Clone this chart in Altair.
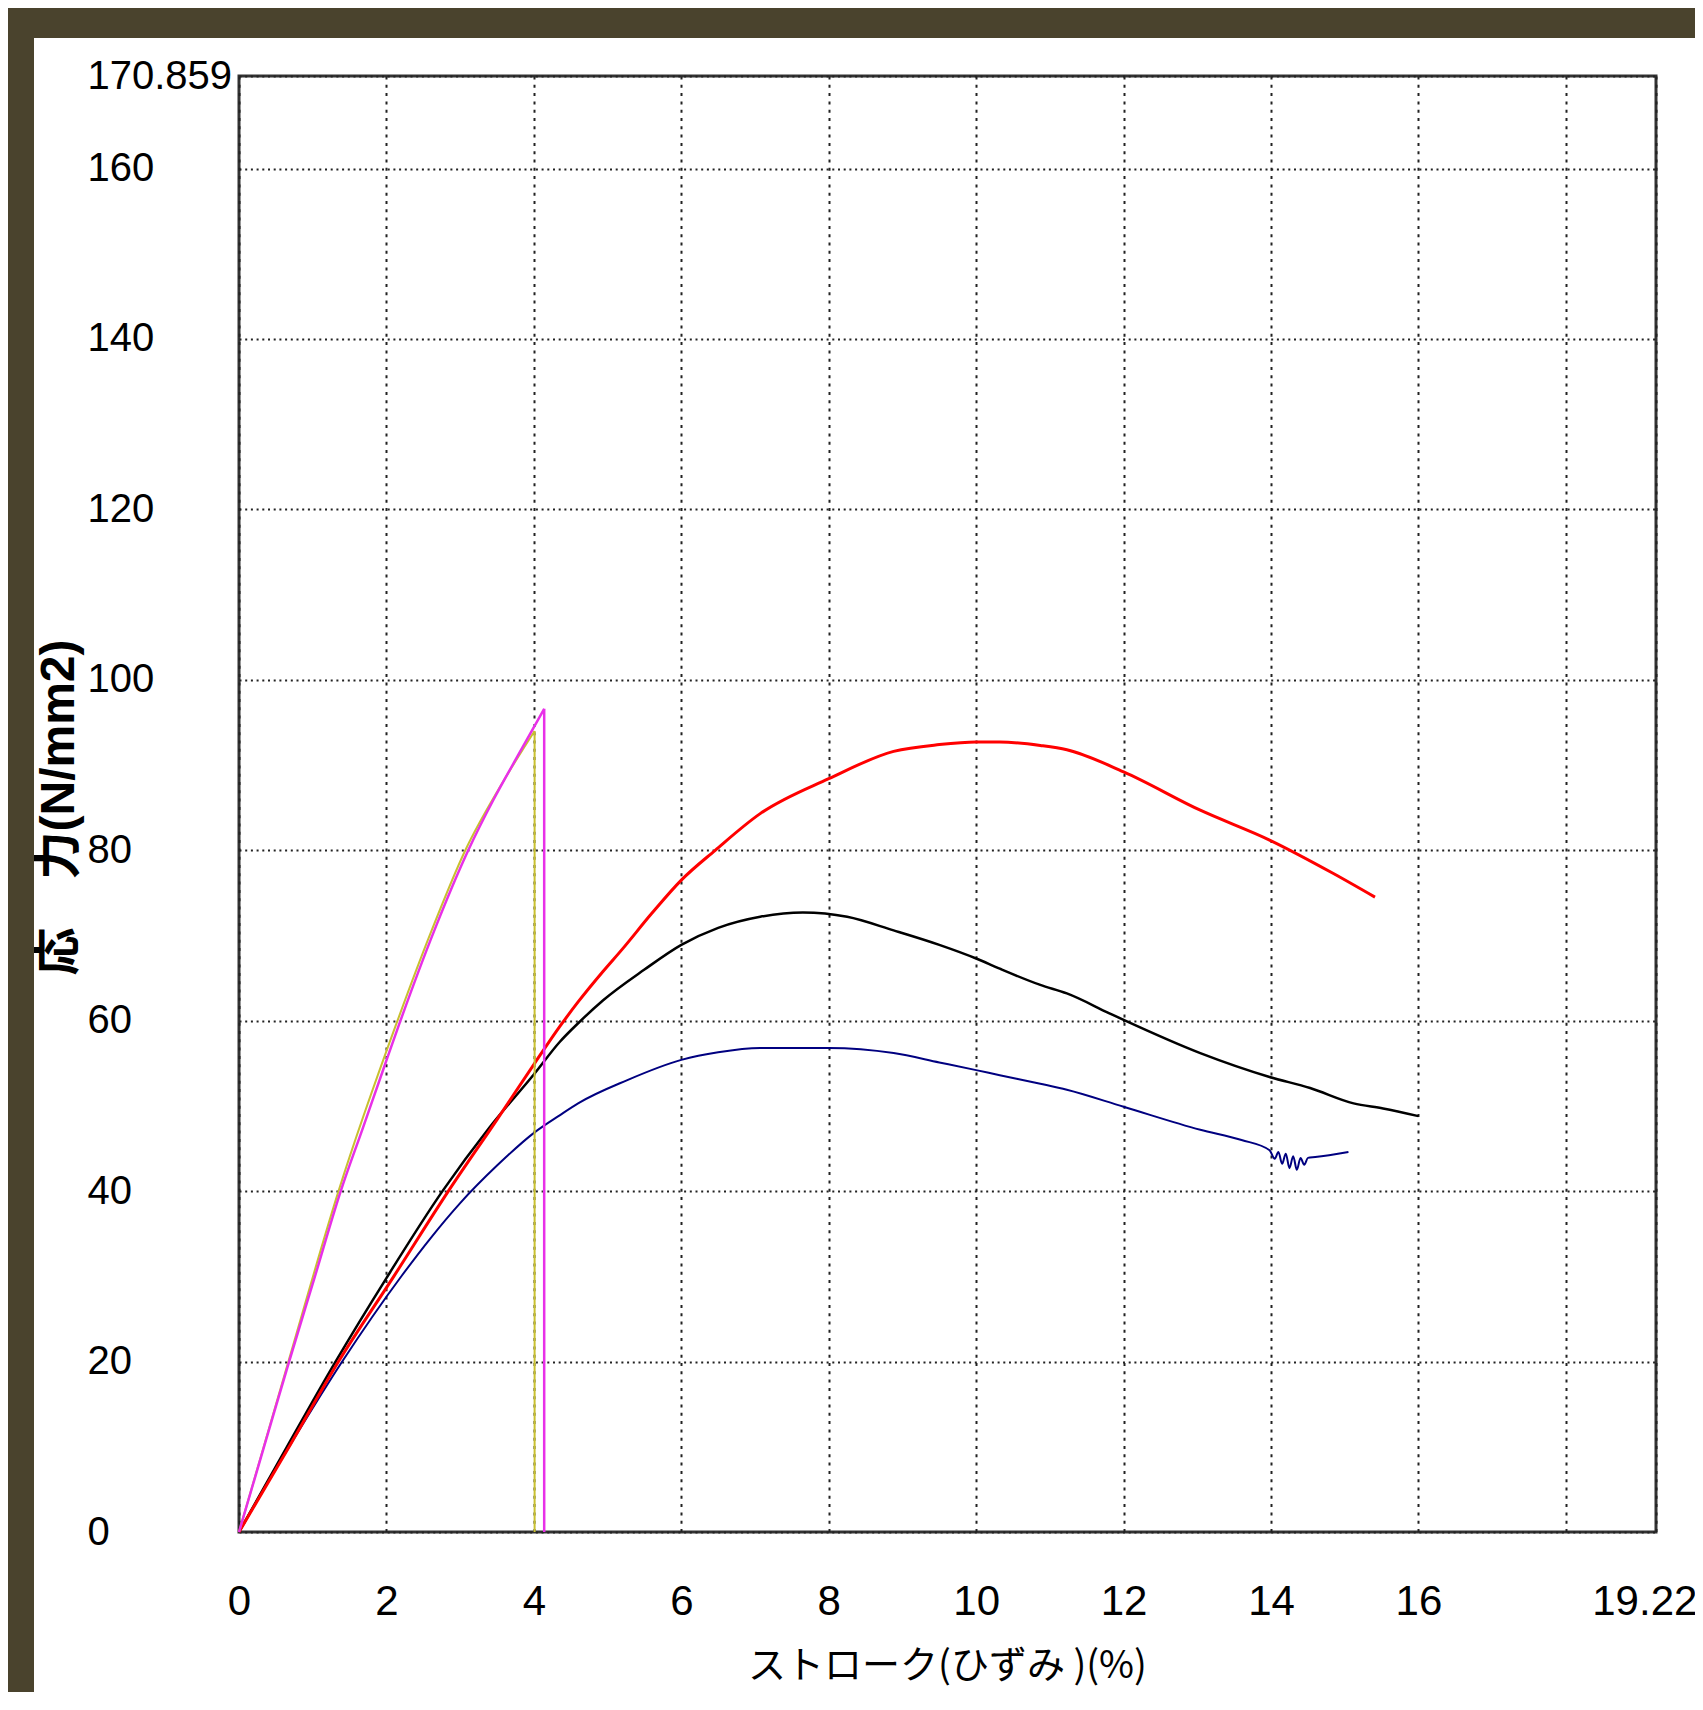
import altair as alt
import pandas as pd

# ---- data ----
magenta_x = [0, 0.35, 0.68, 1.02, 1.38, 1.68, 1.97, 2.19, 2.65, 3.11, 3.45, 3.75, 4.14, 4.14]
magenta_y = [0, 10.3, 20, 29.7, 40, 47.4, 54.6, 60, 70.6, 80, 85.9, 90.6, 96.6, 0]

yellow_x = [0, 0.67, 1.35, 2.15, 2.6, 3.07, 3.6, 4.01, 4.01]
yellow_y = [0, 20, 40, 60, 70.3, 80, 88.3, 94.0, 0]

red_x = [0, 0.7, 1.35, 2.1, 2.84, 3.5, 4.01, 4.35, 4.6, 4.94, 5.2, 5.6, 6.0, 6.46, 7.07, 8.0,
         8.88, 9.5, 10.0, 10.32, 10.87, 11.23, 12.0, 13.04, 13.98, 14.84, 15.41]
red_y = [0, 10.3, 20, 30, 40, 48.4, 55.0, 59.3, 62.2, 65.8, 68.4, 72.6, 76.5, 80, 84.3, 88.4,
         91.6, 92.4, 92.7, 92.7, 92.3, 91.8, 89.2, 84.7, 81.2, 77.3, 74.5]

black_x = [0, 0.65, 1.31, 2.0, 2.76, 3.4, 4.01, 4.35, 4.6, 4.94, 5.5, 6.0, 6.5, 7.07, 7.65,
           8.25, 8.88, 9.5, 10.0, 10.32, 10.87, 11.23, 11.8, 12.0, 13.04, 13.98, 14.53, 15.12,
           15.52, 16.0]
black_y = [0, 10, 20, 29.8, 40, 47.5, 53.8, 57.5, 59.7, 62.4, 66.0, 68.9, 70.9, 72.2, 72.7,
           72.2, 70.6, 68.9, 67.3, 66.1, 64.2, 63.2, 60.9, 60.1, 56.2, 53.4, 52.1, 50.3,
           49.7, 48.8]

blue_x = [0, 0.68, 1.4, 2.21, 2.6, 3.0, 3.5, 4.01, 4.35, 4.6, 5.26, 6.0, 6.5, 7.07, 8.0, 8.88,
          9.5, 10.0, 10.32, 10.87, 11.23, 12.0, 13.04, 13.6, 13.98, 14.05, 14.1, 14.15, 14.2,
          14.25, 14.3, 14.35, 14.4, 14.45, 14.5, 14.6, 15.05]
blue_y = [0, 10, 20, 30.1, 34.5, 38.6, 43.0, 46.9, 48.9, 50.3, 53.0, 55.4, 56.3, 56.8, 56.8, 56.2,
          55.1, 54.2, 53.6, 52.6, 51.9, 49.9, 47.2, 46.0, 44.8, 43.8, 44.6, 43.2, 44.4,
          42.7, 44.1, 42.5, 43.9, 43.1, 43.9, 44.0, 44.6]

x_tick_values = [0, 2, 4, 6, 8, 10, 12, 14, 16, 18, 19.222]
y_tick_values = [0, 20, 40, 60, 80, 100, 120, 140, 160, 170.859]
x_domain = [0, 19.222]
y_domain = [0, 170.859]

x_title = "ストローク(ひずみ )(%)"
y_title = "応　力(N/mm2)"

series_names = ["blue", "black", "red", "yellow", "magenta"]
series_x = [blue_x, black_x, red_x, yellow_x, magenta_x]
series_y = [blue_y, black_y, red_y, yellow_y, magenta_y]
# series that end with a vertical drop (break) back to zero
series_with_drop = ["yellow", "magenta"]

# ---- styles ----
series_color = {"blue": "#000080", "black": "#000000", "red": "#ff0000",
                "yellow": "#c8c030", "magenta": "#e830e8"}
series_width = {"blue": 2, "black": 2.5, "red": 3, "yellow": 2, "magenta": 2.5}

rows = []
for name, xs, ys in zip(series_names, series_x, series_y):
    for i, (xv, yv) in enumerate(zip(xs, ys)):
        rows.append({"series": name, "i": i, "x": xv, "y": yv, "n": len(xs)})
df = pd.DataFrame(rows)

LABEL_FONT = "Liberation Sans, Arial, sans-serif"
GRID = "#222222"

X = alt.X(
    "x:Q",
    scale=alt.Scale(domain=x_domain, nice=False, zero=False),
    title=x_title,
    axis=alt.Axis(
        values=x_tick_values,
        labelExpr="datum.value == 18 ? '' : format(datum.value, '~g')",
        grid=True, gridColor=GRID, gridDash=[3, 5.3], gridWidth=2,
        ticks=False, domain=False,
        labelFont=LABEL_FONT, labelFontSize=42, labelColor="black",
        labelPadding=69, labelBaseline="middle", labelAlign="center",
        labelOverlap=False, labelFlush=False,
        titleFont="Noto Sans CJK JP", titleFontSize=38, titleFontWeight="normal",
        titleColor="black", titleX=708, titleY=145, titleAlign="center",
        titleBaseline="alphabetic",
    ),
)
Y = alt.Y(
    "y:Q",
    scale=alt.Scale(domain=y_domain, nice=False, zero=False),
    title=y_title,
    axis=alt.Axis(
        values=y_tick_values,
        labelExpr="format(datum.value, '~g')",
        grid=True, gridColor=GRID, gridDash=[2, 3.7], gridWidth=2,
        ticks=False, domain=False,
        labelFont=LABEL_FONT, labelFontSize=40, labelColor="black",
        labelPadding=152, labelBaseline="middle", labelAlign="left",
        labelOverlap=False, labelFlush=False,
        titleFont="Liberation Sans, Noto Sans CJK JP", titleFontSize=48,
        titleFontWeight="bold", titleColor="black", titleAngle=270,
        titleX=-180, titleY=731, titleAlign="center", titleBaseline="middle",
    ),
)

frame_src = pd.DataFrame({"k": [0]})
top_band = alt.Chart(frame_src).mark_rect(color="#4a432d").encode(
    x=alt.value(-231), x2=alt.value(1456), y=alt.value(-68), y2=alt.value(-38)
)
left_band = alt.Chart(frame_src).mark_rect(color="#4a432d").encode(
    x=alt.value(-231), x2=alt.value(-205), y=alt.value(-68), y2=alt.value(1616)
)

layers = [top_band, left_band]
for name in series_names:
    base = alt.Chart(df).transform_filter(alt.datum.series == name)
    if name in series_with_drop:
        rise = base.transform_filter(alt.datum.i <= alt.datum.n - 2).mark_line(
            color=series_color[name], strokeWidth=series_width[name], interpolate="monotone"
        ).encode(x=X, y=Y, order=alt.Order("i:Q"))
        drop = base.transform_filter(alt.datum.i >= alt.datum.n - 2).mark_line(
            color=series_color[name], strokeWidth=series_width[name]
        ).encode(x=X, y=Y, order=alt.Order("i:Q"))
        layers += [rise, drop]
    else:
        layers.append(
            base.mark_line(
                color=series_color[name], strokeWidth=series_width[name], interpolate="monotone"
            ).encode(x=X, y=Y, order=alt.Order("i:Q"))
        )

chart = (
    alt.layer(*layers)
    .properties(
        width=1417,
        height=1456,
        autosize=alt.AutoSizeParams(type="none"),
        padding={"left": 231, "top": 68, "right": 39, "bottom": 160},
        background="white",
    )
    .configure_view(stroke="#333333", strokeWidth=3, fill="white")
)

chart.save("out.html", embed_options={"renderer": "svg", "actions": False})
